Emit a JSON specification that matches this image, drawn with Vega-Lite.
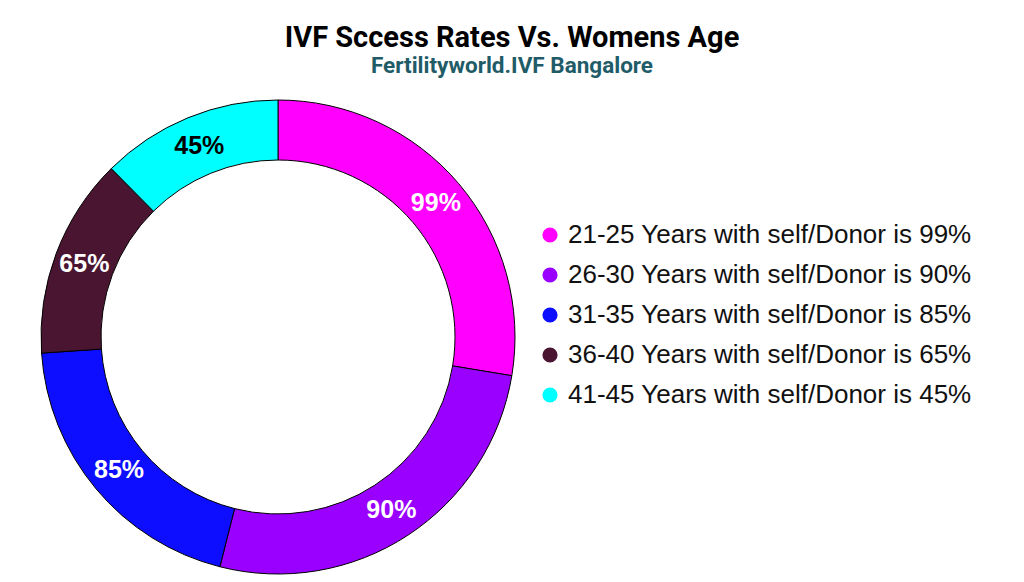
{
  "$schema": "https://vega.github.io/schema/vega-lite/v6.json",
  "autosize": {"type": "none"},
  "width": 476,
  "height": 476,
  "padding": {"left": 40, "top": 99, "right": 508, "bottom": 7},
  "background": "white",
  "title": {
    "text": "IVF Sccess Rates Vs. Womens Age",
    "subtitle": "Fertilityworld.IVF Bangalore",
    "anchor": "middle",
    "dx": 234,
    "offset": 21,
    "font": "Roboto",
    "fontSize": 29,
    "fontWeight": "bold",
    "color": "#000000",
    "subtitleFont": "Roboto",
    "subtitleFontSize": 22.5,
    "subtitleFontWeight": "bold",
    "subtitleColor": "#1F5C68",
    "subtitlePadding": 2
  },
  "data": {
    "values": [
      {"label": "21-25 Years with self/Donor is 99%", "rate": 0.99, "share": 99.4},
      {"label": "26-30 Years with self/Donor is 90%", "rate": 0.90, "share": 94.8},
      {"label": "31-35 Years with self/Donor is 85%", "rate": 0.85, "share": 71.9},
      {"label": "36-40 Years with self/Donor is 65%", "rate": 0.65, "share": 49.2},
      {"label": "41-45 Years with self/Donor is 45%", "rate": 0.45, "share": 44.7}
    ]
  },
  "encoding": {
    "theta": {"field": "share", "type": "quantitative", "stack": true},
    "order": {"field": "label", "type": "nominal"}
  },
  "layer": [
    {
      "mark": {"type": "arc", "outerRadius": 237, "innerRadius": 177, "stroke": "#000000", "strokeWidth": 1},
      "encoding": {
        "color": {
          "field": "label",
          "type": "nominal",
          "scale": {
            "domain": [
              "21-25 Years with self/Donor is 99%",
              "26-30 Years with self/Donor is 90%",
              "31-35 Years with self/Donor is 85%",
              "36-40 Years with self/Donor is 65%",
              "41-45 Years with self/Donor is 45%"
            ],
            "range": ["#FF00FF", "#9900FF", "#0D0DFF", "#4A1530", "#00FFFF"]
          },
          "legend": {
            "title": null,
            "orient": "none",
            "legendX": 497,
            "legendY": 123,
            "symbolType": "circle",
            "symbolSize": 230,
            "symbolStrokeWidth": 0,
            "labelFont": "Liberation Sans",
            "labelFontSize": 26,
            "labelColor": "#111111",
            "labelLimit": 600,
            "labelOffset": 5,
            "rowPadding": 14
          }
        }
      }
    },
    {
      "mark": {"type": "text", "radius": 207, "font": "Liberation Sans", "fontSize": 25, "fontWeight": "bold"},
      "encoding": {
        "text": {"field": "rate", "type": "quantitative", "format": ".0%"},
        "color": {"condition": {"test": "datum.rate == 0.45", "value": "#000000"}, "value": "#FFFFFF"}
      }
    }
  ]
}
